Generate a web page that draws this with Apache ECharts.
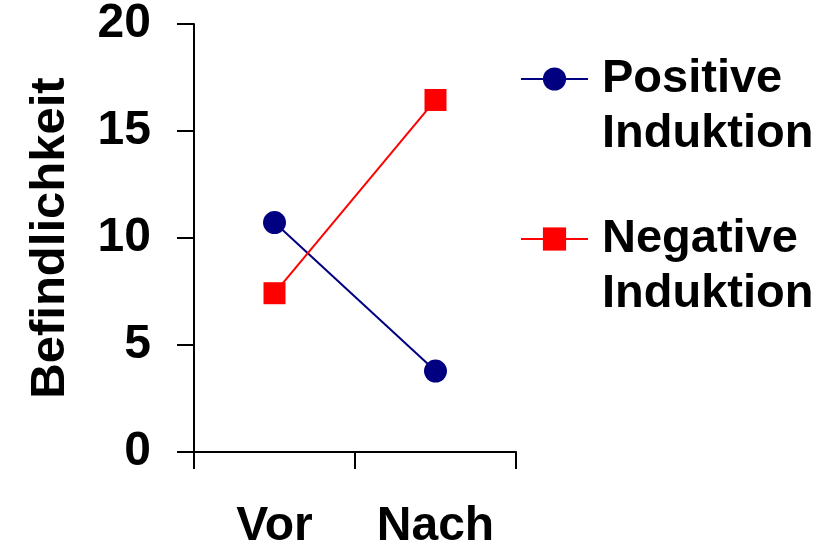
<!DOCTYPE html>
<html>
<head>
<meta charset="utf-8">
<script src="https://cdn.jsdelivr.net/npm/echarts@6/dist/echarts.min.js"></script>
<style>
html,body{margin:0;padding:0;background:#fff;overflow:hidden;}
#chart{width:837px;height:547px;}
</style>
</head>
<body>
<div id="chart"></div>
<script>
const categories = ['Vor', 'Nach'];
const positiveValues = [10.72, 3.78];
const negativeValues = [7.42, 16.45];
const seriesNames = ['Positive\nInduktion', 'Negative\nInduktion'];
const yTicks = { min: 0, max: 20, interval: 5 };
const yAxisTitle = 'Befindlichkeit';

const FONT = 'Liberation Sans, Arial, sans-serif';
const chart = echarts.init(document.getElementById('chart'), null, { renderer: 'canvas' });

function legendFor(name, iconCenterY) {
  return {
    data: [name],
    orient: 'vertical',
    left: 520,
    top: iconCenterY - 82.5,
    padding: 0,
    itemWidth: 67,
    itemHeight: 29,
    itemGap: 0,
    selectedMode: false,
    formatter: n => '\n' + n,
    textStyle: {
      fontFamily: FONT,
      fontWeight: 'bold',
      fontSize: 47,
      lineHeight: 55,
      color: '#000',
      padding: [0, 0, 0, 9]
    }
  };
}

chart.setOption({
  animation: false,
  backgroundColor: '#fff',
  grid: { left: 194, right: 321, top: 24, bottom: 95, containLabel: false, outerBoundsMode: 'none' },
  legend: [legendFor(seriesNames[0], 79), legendFor(seriesNames[1], 239)],
  xAxis: {
    type: 'category',
    data: categories,
    boundaryGap: true,
    axisLine: { lineStyle: { color: '#000', width: 2 } },
    axisTick: { show: true, length: 17, inside: false, lineStyle: { color: '#000', width: 2 } },
    axisLabel: { fontFamily: FONT, fontWeight: 'bold', fontSize: 48, color: '#000', margin: 51 },
    splitLine: { show: false }
  },
  yAxis: {
    type: 'value',
    min: yTicks.min,
    max: yTicks.max,
    interval: yTicks.interval,
    name: yAxisTitle,
    nameLocation: 'middle',
    nameGap: 119,
    nameRotate: 90,
    nameTextStyle: { fontFamily: FONT, fontWeight: 'bold', fontSize: 49, color: '#000' },
    axisLine: { show: true, lineStyle: { color: '#000', width: 2 } },
    axisTick: { show: true, length: 17, lineStyle: { color: '#000', width: 2 } },
    axisLabel: { fontFamily: FONT, fontWeight: 'bold', fontSize: 48, color: '#000', margin: 43 },
    splitLine: { show: false }
  },
  series: [
    {
      name: seriesNames[0],
      type: 'line',
      data: positiveValues,
      symbol: 'circle',
      symbolSize: 23,
      color: '#000080',
      itemStyle: { color: '#000080' },
      lineStyle: { color: '#000080', width: 2 }
    },
    {
      name: seriesNames[1],
      type: 'line',
      data: negativeValues,
      symbol: 'rect',
      symbolSize: 22,
      color: '#ff0000',
      itemStyle: { color: '#ff0000' },
      lineStyle: { color: '#ff0000', width: 2 }
    }
  ]
});
</script>
</body>
</html>
